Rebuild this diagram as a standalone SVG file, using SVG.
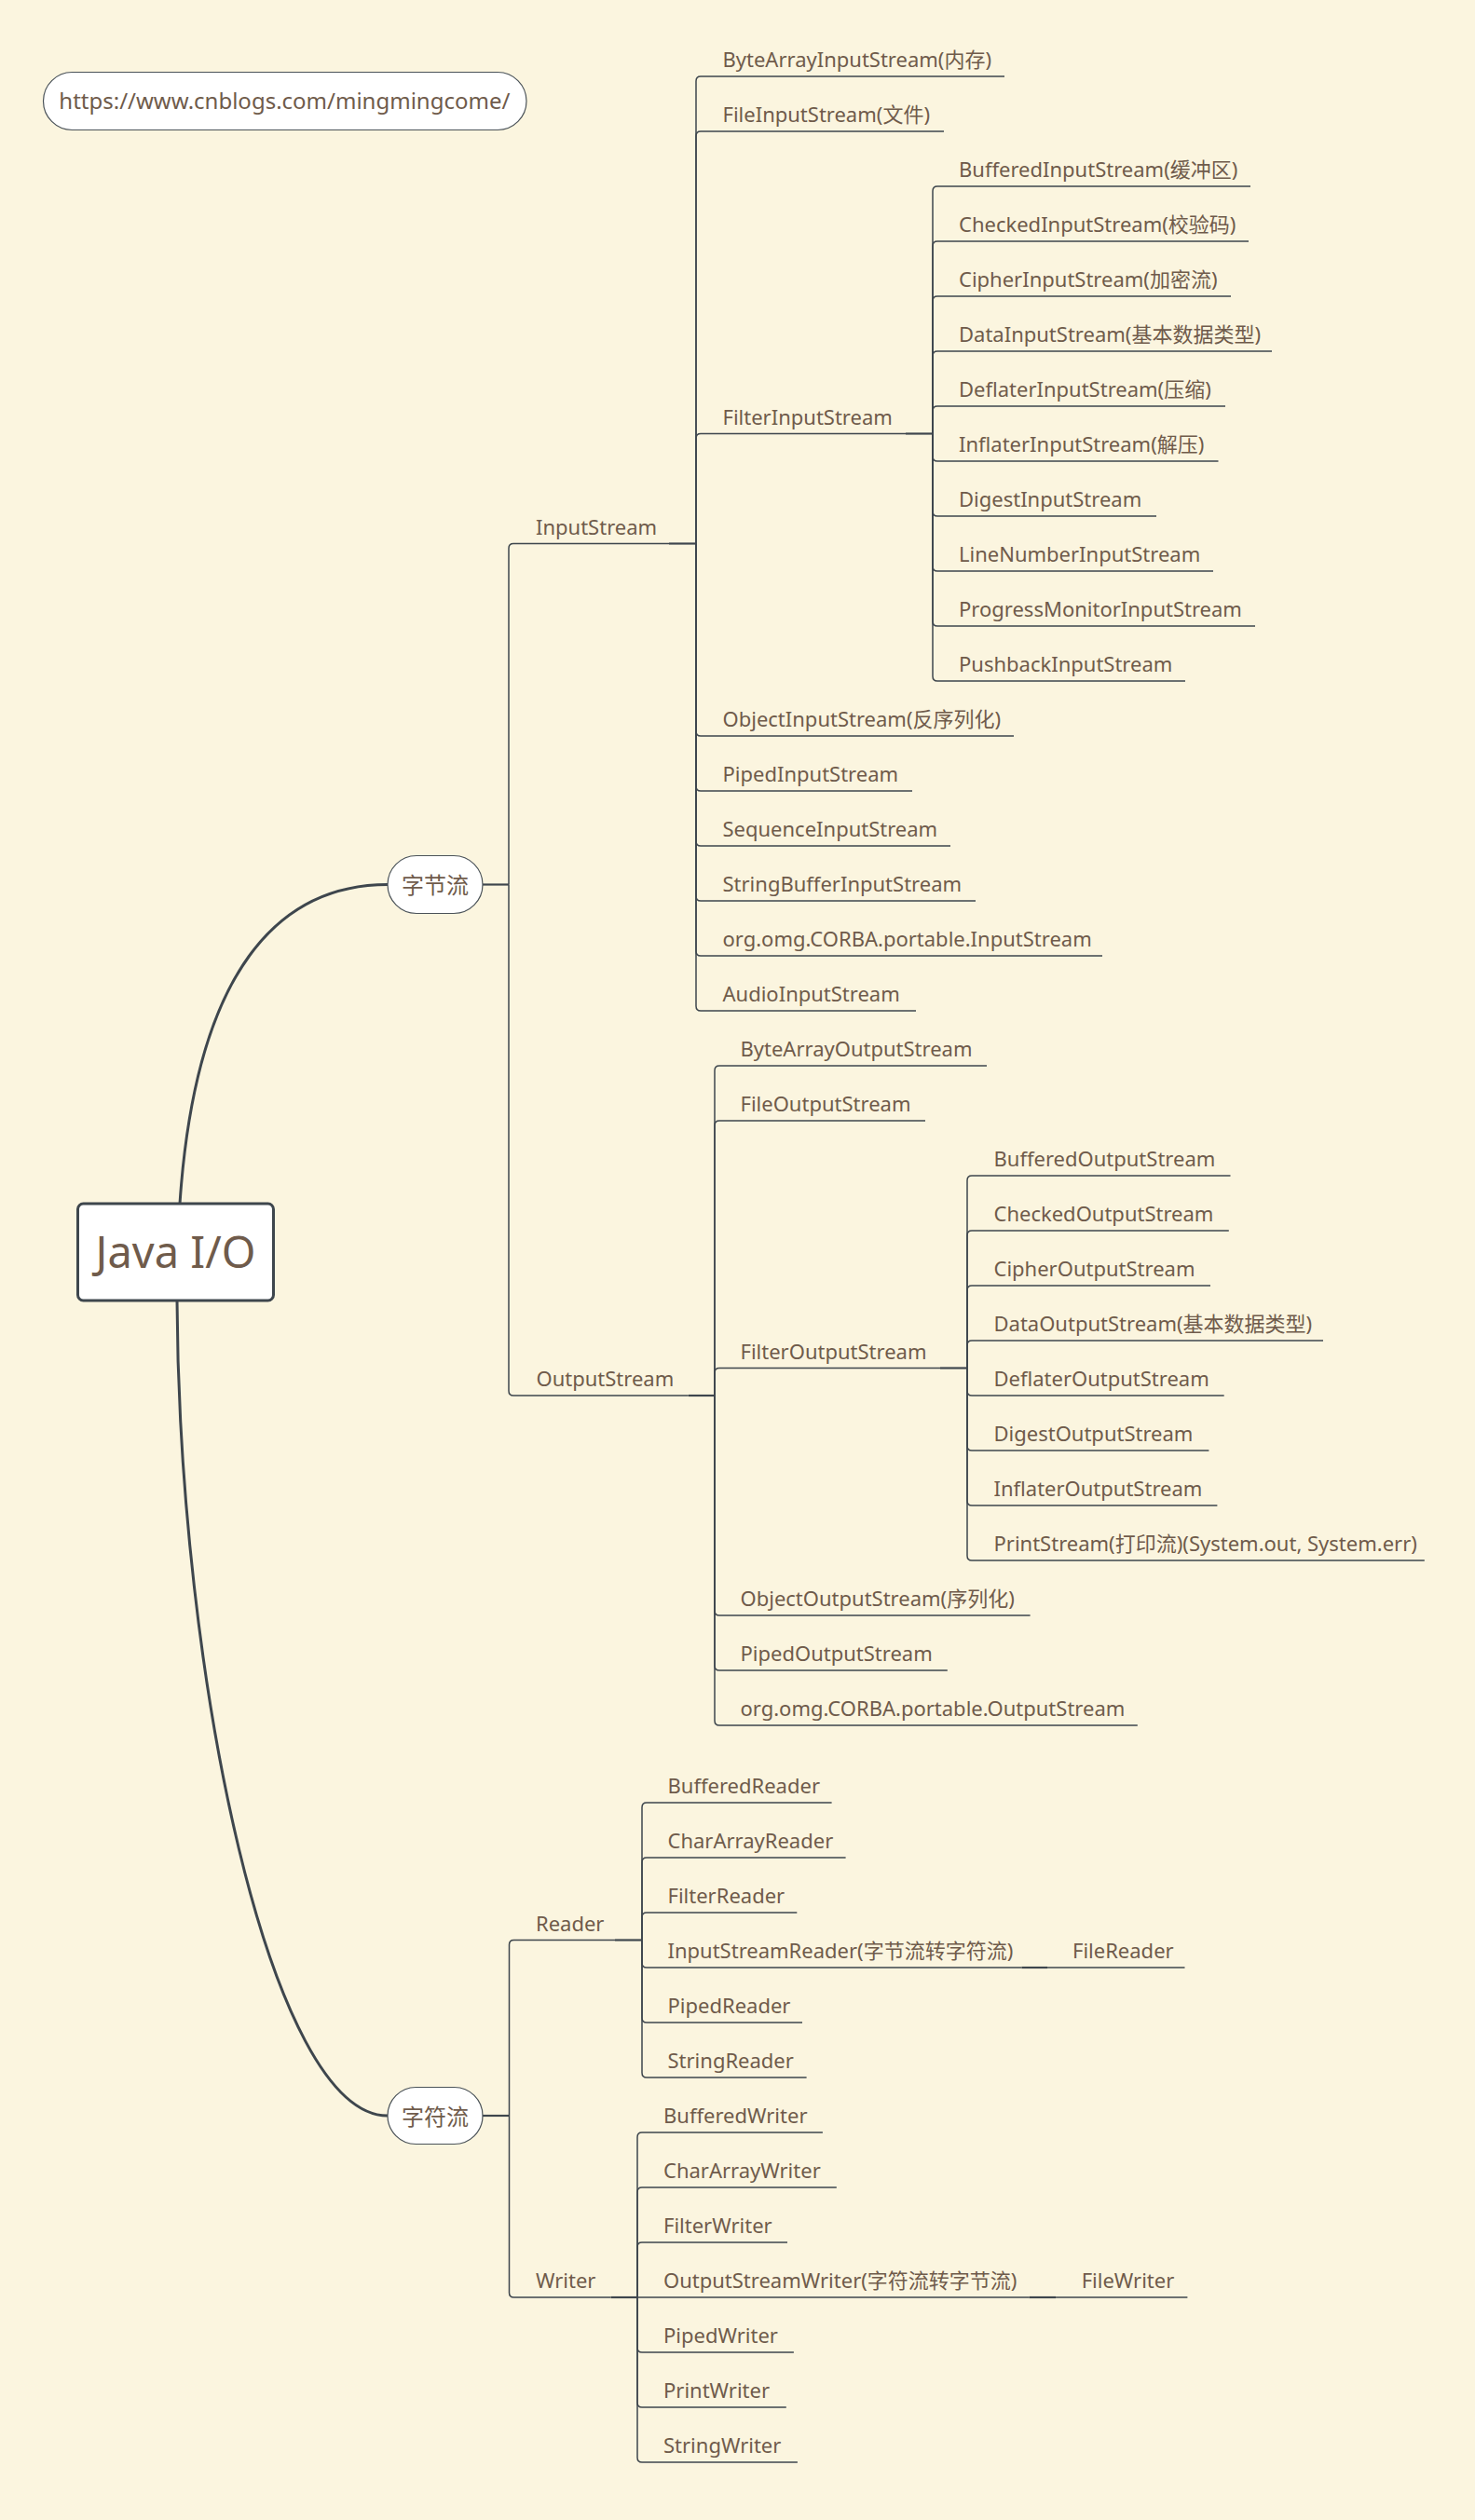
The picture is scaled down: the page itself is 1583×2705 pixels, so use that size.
<svg xmlns="http://www.w3.org/2000/svg" width="1583" height="2705" viewBox="0 0 1583 2705">
<style>
.t{font-family:"Noto Sans","Noto Sans CJK SC",sans-serif;font-size:22px;fill:#6F5B4B}
.cjk{font-family:"Noto Sans CJK SC","Noto Sans",sans-serif;font-size:24px;fill:#6F5B4B}
.ln{fill:none;stroke:#3E464D;stroke-width:1.5}
.cn{fill:none;stroke:#3E464D;stroke-width:2.2}
.cv{fill:none;stroke:#3E464D;stroke-width:3}
.pill{fill:#FFFFFF;stroke:#4A5258;stroke-width:1.2}
</style>
<rect width="1583" height="2705" fill="#FBF5DF"/>

<g id="connectors">
  <path class="cv" d="M193,1292 C210,1040 300,949.5 416,949.5"/>
  <path class="cv" d="M190,1396 C192,1800 290,2271 416,2271"/>
  <!-- 字节流 -->
  <path class="cn" d="M518,949.5 H546"/>
  <path class="ln" d="M546,949.5 V588.5 Q546,583.5 551,583.5 H718"/>
  <path class="ln" d="M546,949.5 V1493 Q546,1498 551,1498 H738.7"/>
  <!-- InputStream -->
  <path class="cn" d="M718,583.5 H747"/>
  <path class="ln" d="M747,583.5 V87 Q747,82 752,82 H1078"/>
  <path class="ln" d="M747,583.5 V146 Q747,141 752,141 H1013"/>
  <path class="ln" d="M747,583.5 V470.5 Q747,465.5 752,465.5 H972"/>
  <path class="ln" d="M747,583.5 V785 Q747,790 752,790 H1088"/>
  <path class="ln" d="M747,583.5 V844 Q747,849 752,849 H979"/>
  <path class="ln" d="M747,583.5 V903 Q747,908 752,908 H1020"/>
  <path class="ln" d="M747,583.5 V962 Q747,967 752,967 H1047"/>
  <path class="ln" d="M747,583.5 V1021 Q747,1026 752,1026 H1183"/>
  <path class="ln" d="M747,583.5 V1080 Q747,1085 752,1085 H983"/>
  <!-- FilterInputStream -->
  <path class="cn" d="M972,465.5 H1001"/>
  <path class="ln" d="M1001,465.5 V205 Q1001,200 1006,200 H1342"/>
  <path class="ln" d="M1001,465.5 V264 Q1001,259 1006,259 H1340"/>
  <path class="ln" d="M1001,465.5 V323 Q1001,318 1006,318 H1321"/>
  <path class="ln" d="M1001,465.5 V382 Q1001,377 1006,377 H1365"/>
  <path class="ln" d="M1001,465.5 V441 Q1001,436 1006,436 H1315"/>
  <path class="ln" d="M1001,465.5 V490 Q1001,495 1006,495 H1307.5"/>
  <path class="ln" d="M1001,465.5 V549 Q1001,554 1006,554 H1241"/>
  <path class="ln" d="M1001,465.5 V608 Q1001,613 1006,613 H1302"/>
  <path class="ln" d="M1001,465.5 V667 Q1001,672 1006,672 H1347"/>
  <path class="ln" d="M1001,465.5 V726 Q1001,731 1006,731 H1272"/>
  <!-- OutputStream -->
  <path class="cn" d="M738.7,1498 H767"/>
  <path class="ln" d="M767,1498 V1149 Q767,1144 772,1144 H1059"/>
  <path class="ln" d="M767,1498 V1208 Q767,1203 772,1203 H993"/>
  <path class="ln" d="M767,1498 V1473.5 Q767,1468.5 772,1468.5 H1009"/>
  <path class="ln" d="M767,1498 V1729 Q767,1734 772,1734 H1105.6"/>
  <path class="ln" d="M767,1498 V1788 Q767,1793 772,1793 H1016.8"/>
  <path class="ln" d="M767,1498 V1847 Q767,1852 772,1852 H1220.8"/>
  <!-- FilterOutputStream -->
  <path class="cn" d="M1009,1468.5 H1038"/>
  <path class="ln" d="M1038,1468.5 V1267 Q1038,1262 1043,1262 H1320.5"/>
  <path class="ln" d="M1038,1468.5 V1326 Q1038,1321 1043,1321 H1318.8"/>
  <path class="ln" d="M1038,1468.5 V1385 Q1038,1380 1043,1380 H1299"/>
  <path class="ln" d="M1038,1468.5 V1444 Q1038,1439 1043,1439 H1420"/>
  <path class="ln" d="M1038,1468.5 V1493 Q1038,1498 1043,1498 H1313.7"/>
  <path class="ln" d="M1038,1468.5 V1552 Q1038,1557 1043,1557 H1297.4"/>
  <path class="ln" d="M1038,1468.5 V1611 Q1038,1616 1043,1616 H1306.4"/>
  <path class="ln" d="M1038,1468.5 V1670 Q1038,1675 1043,1675 H1528.8"/>
  <!-- 字符流 -->
  <path class="cn" d="M518,2271 H546.5"/>
  <path class="ln" d="M546.5,2271 V2087.5 Q546.5,2082.5 551.5,2082.5 H660"/>
  <path class="ln" d="M546.5,2271 V2461 Q546.5,2466 551.5,2466 H655.5"/>
  <!-- Reader -->
  <path class="cn" d="M660,2082.5 H689"/>
  <path class="ln" d="M689,2082.5 V1940 Q689,1935 694,1935 H892.6"/>
  <path class="ln" d="M689,2082.5 V1999 Q689,1994 694,1994 H907.6"/>
  <path class="ln" d="M689,2082.5 V2058 Q689,2053 694,2053 H855.3"/>
  <path class="ln" d="M689,2082.5 V2107 Q689,2112 694,2112 H1096.4"/>
  <path class="ln" d="M689,2082.5 V2166 Q689,2171 694,2171 H861"/>
  <path class="ln" d="M689,2082.5 V2225 Q689,2230 694,2230 H865.6"/>
  <path class="cn" d="M1096.4,2112 H1124"/>
  <path class="ln" d="M1124,2112 H1271.5"/>
  <!-- Writer -->
  <path class="cn" d="M655.5,2466 H684"/>
  <path class="ln" d="M684,2466 V2294 Q684,2289 689,2289 H882.9"/>
  <path class="ln" d="M684,2466 V2353 Q684,2348 689,2348 H897.8"/>
  <path class="ln" d="M684,2466 V2412 Q684,2407 689,2407 H845"/>
  <path class="ln" d="M684,2466 H1104.5"/>
  <path class="ln" d="M684,2466 V2520 Q684,2525 689,2525 H851.9"/>
  <path class="ln" d="M684,2466 V2579 Q684,2584 689,2584 H843.8"/>
  <path class="ln" d="M684,2466 V2638 Q684,2643 689,2643 H855.9"/>
  <path class="cn" d="M1104.5,2466 H1133"/>
  <path class="ln" d="M1133,2466 H1274.4"/>
</g>

<g id="url">
  <rect class="pill" x="46.5" y="77.5" width="518.5" height="62" rx="31"/>
  <text x="63.3" y="117" style="font-family:'Noto Sans',sans-serif;font-size:24px;fill:#6F5B4B">https://www.cnblogs.com/mingmingcome/</text>
</g>

<g id="root">
  <rect x="83.5" y="1292" width="210" height="104" rx="6" fill="#FFFFFF" stroke="#3E464D" stroke-width="3"/>
  <text x="188.5" y="1361" text-anchor="middle" style="font-family:'Noto Sans',sans-serif;font-size:47px;fill:#6F5B4B">Java I/O</text>
</g>

<g id="byte-stream">
  <rect class="pill" x="416" y="918.5" width="102" height="62" rx="31"/>
  <text class="cjk" x="467" y="959" text-anchor="middle">字节流</text>
</g>
<g id="char-stream">
  <rect class="pill" x="416" y="2240.5" width="102" height="61" rx="30.5"/>
  <text class="cjk" x="467" y="2281" text-anchor="middle">字符流</text>
</g>

<g id="inputstream"><text class="t" x="575" y="573.5">InputStream</text></g>
<g id="outputstream"><text class="t" x="575.5" y="1488">OutputStream</text></g>
<g id="reader"><text class="t" x="575" y="2072.5">Reader</text></g>
<g id="writer"><text class="t" x="575" y="2456">Writer</text></g>

<g id="bytearrayinputstream"><text class="t" x="775.5" y="72">ByteArrayInputStream(内存)</text></g>
<g id="fileinputstream"><text class="t" x="775.5" y="131">FileInputStream(文件)</text></g>
<g id="filterinputstream"><text class="t" x="775.5" y="455.5">FilterInputStream</text></g>
<g id="bufferedinputstream"><text class="t" x="1029" y="190">BufferedInputStream(缓冲区)</text></g>
<g id="checkedinputstream"><text class="t" x="1029" y="249">CheckedInputStream(校验码)</text></g>
<g id="cipherinputstream"><text class="t" x="1029" y="308">CipherInputStream(加密流)</text></g>
<g id="datainputstream"><text class="t" x="1029" y="367">DataInputStream(基本数据类型)</text></g>
<g id="deflaterinputstream"><text class="t" x="1029" y="426">DeflaterInputStream(压缩)</text></g>
<g id="inflaterinputstream"><text class="t" x="1029" y="485">InflaterInputStream(解压)</text></g>
<g id="digestinputstream"><text class="t" x="1029" y="544">DigestInputStream</text></g>
<g id="linenumberinputstream"><text class="t" x="1029" y="603">LineNumberInputStream</text></g>
<g id="progressmonitorinputstream"><text class="t" x="1029" y="662">ProgressMonitorInputStream</text></g>
<g id="pushbackinputstream"><text class="t" x="1029" y="721">PushbackInputStream</text></g>
<g id="objectinputstream"><text class="t" x="775.5" y="780">ObjectInputStream(反序列化)</text></g>
<g id="pipedinputstream"><text class="t" x="775.5" y="839">PipedInputStream</text></g>
<g id="sequenceinputstream"><text class="t" x="775.5" y="898">SequenceInputStream</text></g>
<g id="stringbufferinputstream"><text class="t" x="775.5" y="957">StringBufferInputStream</text></g>
<g id="corba-inputstream"><text class="t" x="775.5" y="1016">org.omg.CORBA.portable.InputStream</text></g>
<g id="audioinputstream"><text class="t" x="775.5" y="1075">AudioInputStream</text></g>

<g id="bytearrayoutputstream"><text class="t" x="794.5" y="1134">ByteArrayOutputStream</text></g>
<g id="fileoutputstream"><text class="t" x="794.5" y="1193">FileOutputStream</text></g>
<g id="filteroutputstream"><text class="t" x="794.5" y="1458.5">FilterOutputStream</text></g>
<g id="bufferedoutputstream"><text class="t" x="1066.5" y="1252">BufferedOutputStream</text></g>
<g id="checkedoutputstream"><text class="t" x="1066.5" y="1311">CheckedOutputStream</text></g>
<g id="cipheroutputstream"><text class="t" x="1066.5" y="1370">CipherOutputStream</text></g>
<g id="dataoutputstream"><text class="t" x="1066.5" y="1429">DataOutputStream(基本数据类型)</text></g>
<g id="deflateroutputstream"><text class="t" x="1066.5" y="1488">DeflaterOutputStream</text></g>
<g id="digestoutputstream"><text class="t" x="1066.5" y="1547">DigestOutputStream</text></g>
<g id="inflateroutputstream"><text class="t" x="1066.5" y="1606">InflaterOutputStream</text></g>
<g id="printstream"><text class="t" x="1066.5" y="1665">PrintStream(打印流)(System.out, System.err)</text></g>
<g id="objectoutputstream"><text class="t" x="794.5" y="1724">ObjectOutputStream(序列化)</text></g>
<g id="pipedoutputstream"><text class="t" x="794.5" y="1783">PipedOutputStream</text></g>
<g id="corba-outputstream"><text class="t" x="794.5" y="1842">org.omg.CORBA.portable.OutputStream</text></g>

<g id="bufferedreader"><text class="t" x="716.5" y="1925">BufferedReader</text></g>
<g id="chararrayreader"><text class="t" x="716.5" y="1984">CharArrayReader</text></g>
<g id="filterreader"><text class="t" x="716.5" y="2043">FilterReader</text></g>
<g id="inputstreamreader"><text class="t" x="716.5" y="2102">InputStreamReader(字节流转字符流)</text></g>
<g id="filereader"><text class="t" x="1151" y="2102">FileReader</text></g>
<g id="pipedreader"><text class="t" x="716.5" y="2161">PipedReader</text></g>
<g id="stringreader"><text class="t" x="716.5" y="2220">StringReader</text></g>

<g id="bufferedwriter"><text class="t" x="712" y="2279">BufferedWriter</text></g>
<g id="chararraywriter"><text class="t" x="712" y="2338">CharArrayWriter</text></g>
<g id="filterwriter"><text class="t" x="712" y="2397">FilterWriter</text></g>
<g id="outputstreamwriter"><text class="t" x="712" y="2456">OutputStreamWriter(字符流转字节流)</text></g>
<g id="filewriter"><text class="t" x="1160.7" y="2456">FileWriter</text></g>
<g id="pipedwriter"><text class="t" x="712" y="2515">PipedWriter</text></g>
<g id="printwriter"><text class="t" x="712" y="2574">PrintWriter</text></g>
<g id="stringwriter"><text class="t" x="712" y="2633">StringWriter</text></g>
</svg>
